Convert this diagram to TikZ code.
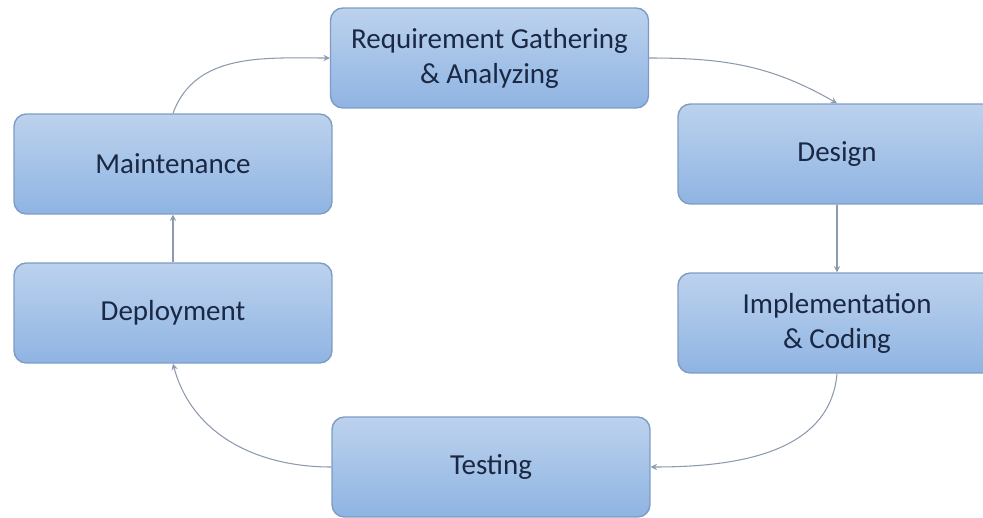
\documentclass[tikz,border=0pt]{standalone}
\usepackage{fontspec}
\setmainfont{Carlito}
\usetikzlibrary{arrows}

\definecolor{boxtop}{HTML}{BCD2EE}
\definecolor{boxbot}{HTML}{8FB4E2}
\definecolor{boxline}{HTML}{7E9CC3}
\definecolor{txtcol}{HTML}{1A2844}
\definecolor{linkcol}{HTML}{8C9AAE}

\tikzset{
	phase/.style={draw=boxline, line width=.8pt, rounded corners=7pt,
		top color=boxtop, bottom color=boxbot,
		minimum width=6.36cm, minimum height=2cm,
		align=center, text=txtcol, font=\fontsize{16.5}{20}\selectfont},
	link/.style={draw=linkcol, line width=.6pt, -stealth}
}

\begin{document}
\begin{tikzpicture}[x=.02cm, y=-.02cm]
\clip (0,0) rectangle (983,517);

% phases of the cycle
\node[phase] (req) at (489.5,58) {Requirement Gathering\\\& Analyzing};
\node[phase] (design) at (837,154) {Design};
\node[phase] (impl) at (837,323) {Implementation\\\& Coding};
\node[phase] (test) at (491,467) {Testing};
\node[phase] (deploy) at (173,313) {Deployment};
\node[phase] (maint) at (173,164) {Maintenance};

% links
\draw[link] (maint.north) to[out=70,in=180] (req.west);
\draw[link] (req.east) to[out=0,in=150] (design.north);
\draw[link] (design.south) -- (impl.north);
\draw[link] (impl.south) to[out=-95,in=0] (test.east);
\draw[link] (test.west) to[out=180,in=-75] (deploy.south);
\draw[link] (deploy.north) -- (maint.south);
\end{tikzpicture}
\end{document}
